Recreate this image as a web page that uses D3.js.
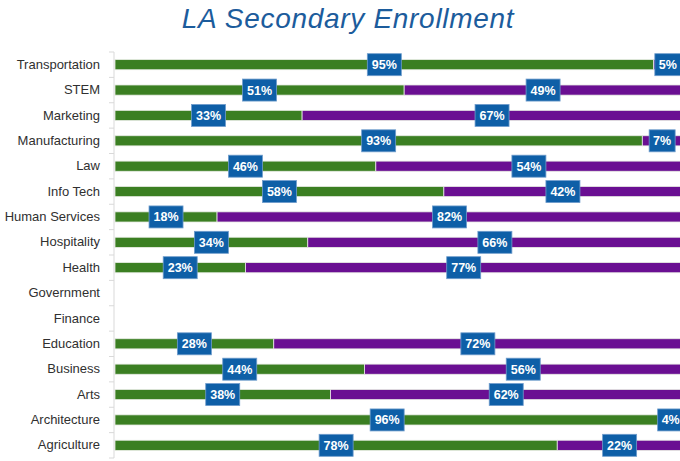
<!DOCTYPE html>
<html lang="en">
<head>
  <meta charset="utf-8">
  <title>LA Secondary Enrollment</title>
  <script src="https://d3js.org/d3.v7.min.js"></script>
  <style>
    body {
      margin: 0;
      background: #fff;
    }

    .title {
      font-family: "Liberation Sans", Arial, sans-serif;
      font-style: italic;
      font-size: 28px;
      letter-spacing: 0.7px;
      fill: #1c5c9c;
    }

    .axis text {
      font-family: "Liberation Sans", Arial, sans-serif;
      font-size: 13px;
      fill: #303030;
    }

    .axis path, .axis line {
      stroke: #d9d9d9;
    }

    .lbl text {
      font-family: "Liberation Sans", Arial, sans-serif;
      font-size: 12.5px;
      font-weight: bold;
      fill: #fff;
    }
  </style>
</head>
<body>
  <svg width="680" height="461"></svg>
  <script>

  // chart data, top to bottom
  var categories = ["Transportation", "STEM", "Marketing", "Manufacturing", "Law",
    "Info Tech", "Human Services", "Hospitality", "Health", "Government",
    "Finance", "Education", "Business", "Arts", "Architecture", "Agriculture"];

  var seriesA = [95, 51, 33, 93, 46, 58, 18, 34, 23, null, null, 28, 44, 38, 96, 78];
  var seriesB = [5, 49, 67, 7, 54, 42, 82, 66, 77, null, null, 72, 56, 62, 4, 22];

  var colors = ["#3b7f22", "#6a0f92"];

  var svg = d3.select("svg"),
      width = +svg.attr("width"),
      height = +svg.attr("height");

  var x = d3.scaleLinear().domain([0, 100]).range([115, 682]);
  var y = d3.scaleBand().domain(categories).range([52, 458]).paddingInner(0.6).paddingOuter(0.3);

  svg.append("text")
      .attr("class", "title")
      .attr("x", 348)
      .attr("y", 27.5)
      .attr("text-anchor", "middle")
      .text("LA Secondary Enrollment");

  // build stacked rows
  var rows = categories.map(function(c, i) {
    return { cat: c, a: seriesA[i], b: seriesB[i] };
  }).filter(function(d) { return d.a != null; });

  var stack = d3.stack().keys(["a", "b"])(rows);

  var g = svg.append("g");

  g.selectAll("g.series")
    .data(stack)
    .enter().append("g")
      .attr("class", "series")
      .attr("fill", function(d, i) { return colors[i]; })
    .selectAll("rect")
    .data(function(d) { return d; })
    .enter().append("rect")
      .attr("x", function(d) { return x(d[0]); })
      .attr("y", function(d) { return y(d.data.cat); })
      .attr("width", function(d) { return x(d[1]) - x(d[0]); })
      .attr("height", y.bandwidth())
      .attr("stroke", "#e8ece4")
      .attr("stroke-width", 0.8);

  // y axis with ticks between categories
  var yAxis = svg.append("g")
      .attr("class", "axis")
      .attr("transform", "translate(114,0)")
      .call(d3.axisLeft(y).tickSize(0).tickPadding(14));
  yAxis.select(".domain").attr("d", "M0,52V458");

  yAxis.selectAll("line.sep")
    .data(d3.range(categories.length + 1))
    .enter().append("line")
      .attr("class", "sep")
      .attr("x1", -5).attr("x2", 0)
      .attr("y1", function(i) { return 52 + i * (406 / categories.length); })
      .attr("y2", function(i) { return 52 + i * (406 / categories.length); });

  // data labels
  var labels = [];
  stack.forEach(function(s) {
    s.forEach(function(d) {
      labels.push({ cat: d.data.cat, cx: x((d[0] + d[1]) / 2), v: d[1] - d[0] });
    });
  });

  var lbl = svg.append("g").attr("class", "lbl")
    .selectAll("g")
    .data(labels)
    .enter().append("g")
      .attr("transform", function(d) {
        return "translate(" + d.cx + "," + (y(d.cat) + y.bandwidth() / 2) + ")";
      });

  lbl.append("rect")
      .attr("x", function(d) { return d.v >= 10 ? -17 : -13; })
      .attr("y", -11)
      .attr("width", function(d) { return d.v >= 10 ? 34 : 26; })
      .attr("height", 22)
      .attr("fill", "#0e5fa7")
      .attr("stroke", "#6f9ccc")
      .attr("stroke-width", 0.8);

  lbl.append("text")
      .attr("text-anchor", "middle")
      .attr("dy", "0.36em")
      .text(function(d) { return d.v + "%"; });

  </script>
</body>
</html>
